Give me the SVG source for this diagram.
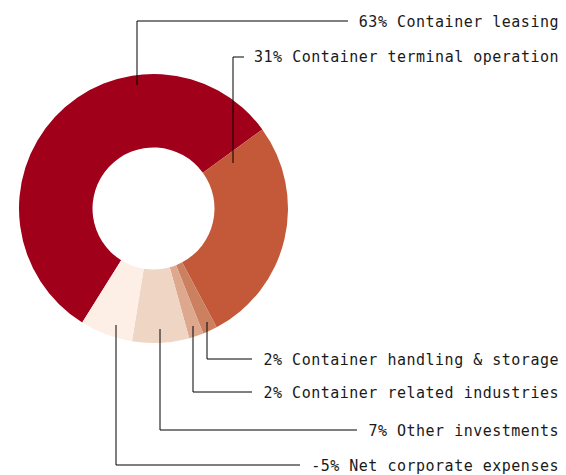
<svg xmlns="http://www.w3.org/2000/svg" width="566" height="475" viewBox="0 0 566 475">
<style>
.lbl{font-family:"DejaVu Sans Mono","Liberation Mono",monospace;font-size:15px;letter-spacing:0.5px;fill:#1a1a1a;text-anchor:end}
.ld{fill:none;stroke:#000;stroke-width:1}
</style>
<rect width="566" height="475" fill="#fff"/>
<g id="slice-leasing"><path d="M82.23 322.56 A134.5 134.5 0 1 1 262.31 129.44 L202.85 172.64 A61 61 0 1 0 121.17 260.23 Z" fill="#a1001b"/></g>
<g id="slice-terminal"><path d="M262.31 129.44 A134.5 134.5 0 0 1 216.64 327.26 L182.14 262.36 A61 61 0 0 0 202.85 172.64 Z" fill="#c4593a"/></g>
<g id="slice-handling"><path d="M216.64 327.26 A134.5 134.5 0 0 1 203.23 333.47 L176.05 265.18 A61 61 0 0 0 182.14 262.36 Z" fill="#cb8060"/></g>
<g id="slice-related"><path d="M203.23 333.47 A134.5 134.5 0 0 1 189.22 338.17 L169.70 267.31 A61 61 0 0 0 176.05 265.18 Z" fill="#dda88e"/></g>
<g id="slice-other"><path d="M189.22 338.17 A134.5 134.5 0 0 1 132.00 341.27 L143.75 268.72 A61 61 0 0 0 169.70 267.31 Z" fill="#eed5c4"/></g>
<g id="slice-net"><path d="M132.00 341.27 A134.5 134.5 0 0 1 82.23 322.56 L121.17 260.23 A61 61 0 0 0 143.75 268.72 Z" fill="#fdeee6"/></g>
<g id="connectors">
<path class="ld" d="M137 85 V21 H348"/>
<path class="ld" d="M233 163 V57 H244"/>
<path class="ld" d="M207 322 V359 H252"/>
<path class="ld" d="M193 326 V392 H252"/>
<path class="ld" d="M160 329 V430 H357"/>
<path class="ld" d="M116 325 V465 H300"/>
</g>
<g id="label-leasing"><text class="lbl" x="559" y="26.5">63% Container leasing</text></g>
<g id="label-terminal"><text class="lbl" x="559" y="62">31% Container terminal operation</text></g>
<g id="label-handling"><text class="lbl" x="559" y="364.5">2% Container handling &amp; storage</text></g>
<g id="label-related"><text class="lbl" x="559" y="397.5">2% Container related industries</text></g>
<g id="label-other"><text class="lbl" x="559" y="435.5">7% Other investments</text></g>
<g id="label-net"><text class="lbl" x="559" y="470.5">-5% Net corporate expenses</text></g>
</svg>
